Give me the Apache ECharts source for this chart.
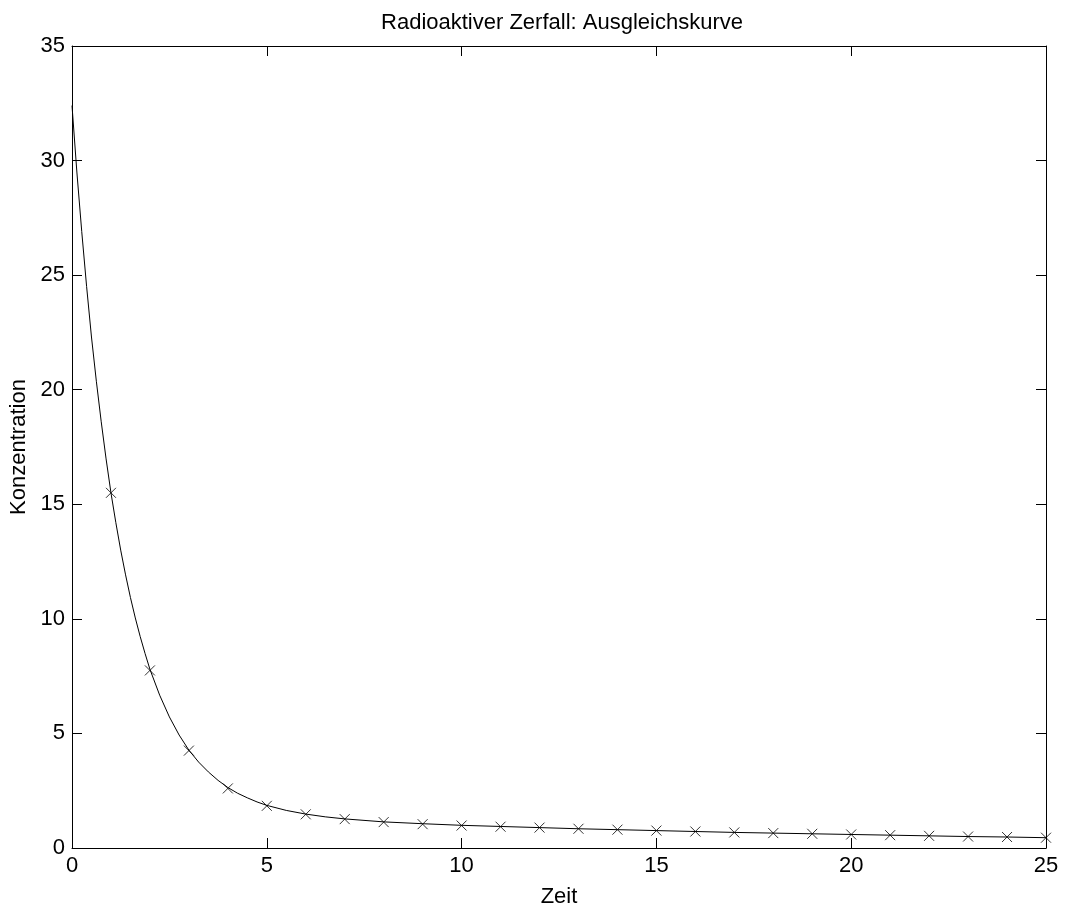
<!DOCTYPE html>
<html><head><meta charset="utf-8">
<script src="https://cdn.jsdelivr.net/npm/echarts@6/dist/echarts.min.js"></script>
<style>html,body{margin:0;padding:0;background:#fff}#c{width:1069px;height:906px}</style>
</head><body><div id="c"></div>
<script>
const titleText = 'Radioaktiver Zerfall: Ausgleichskurve';
const xName = 'Zeit';
const yName = 'Konzentration';
const measT = [1,2,3,4,5,6,7,8,9,10,11,12,13,14,15,16,17,18,19,20,21,22,23,24,25];
const measC = [15.5,7.75,4.25,2.6,1.84,1.47,1.26,1.13,1.04,0.98,0.93,0.89,0.84,0.8,0.76,0.72,0.68,0.65,0.62,0.59,0.56,0.53,0.5,0.48,0.45];
const fitT = [0,0.125,0.25,0.375,0.5,0.625,0.75,0.875,1,1.125,1.25,1.375,1.5,1.625,1.75,1.875,2,2.25,2.5,2.75,3,3.25,3.5,3.75,4,4.25,4.5,4.75,5,5.5,6,6.5,7,8,9,10,11,12,13,14,15,16,17,18,19,20,21,22,23,24,25];
const fitC = [32.4,29.5,26.9,24.5,22.3,20.37,18.6,16.98,15.5,14.2,13.0,11.92,10.93,10.04,9.23,8.49,7.8,6.67,5.72,4.93,4.27,3.75,3.32,2.95,2.64,2.39,2.19,2.01,1.86,1.64,1.48,1.36,1.27,1.14,1.06,0.99,0.94,0.89,0.84,0.8,0.76,0.72,0.68,0.65,0.62,0.59,0.56,0.53,0.5,0.48,0.45];

const FONT = 'Liberation Sans';
const FS = 22;
function common(){
  return {
    axisLine:{show:true,onZero:false,lineStyle:{color:'#000',width:1}},
    axisTick:{show:true,inside:true,length:10,lineStyle:{color:'#000'}},
    splitLine:{show:false}
  };
}
const chart = echarts.init(document.getElementById('c'), null, {renderer:'canvas'});
chart.setOption({
  animation:false,
  backgroundColor:'#fff',
  title:{text:titleText,left:557,textAlign:'center',top:7,padding:5,textStyle:{fontFamily:FONT,fontSize:FS,fontWeight:'normal',color:'#000'}},
  grid:{left:72,right:23,top:46,bottom:58,containLabel:false,outerBoundsMode:'none'},
  xAxis:[
    Object.assign({type:'value',min:0,max:25,interval:5,position:'bottom',name:xName,nameLocation:'middle',nameGap:38,
      nameTextStyle:{fontFamily:FONT,fontSize:FS,color:'#000'},
      axisLabel:{fontFamily:FONT,fontSize:FS,color:'#000',margin:7}},common()),
    Object.assign({type:'value',min:0,max:25,interval:5,position:'top',axisLabel:{show:false}},common())
  ],
  yAxis:[
    Object.assign({type:'value',min:0,max:35,interval:5,position:'left',name:yName,nameLocation:'middle',nameGap:37,
      nameTextStyle:{fontFamily:FONT,fontSize:FS,color:'#000'},
      axisLabel:{fontFamily:FONT,fontSize:FS,color:'#000',margin:7}},common()),
    Object.assign({type:'value',min:0,max:35,interval:5,position:'right',axisLabel:{show:false}},common())
  ],
  series:[
    {type:'line',data:fitT.map((t,i)=>[t,fitC[i]]),showSymbol:false,smooth:false,
     lineStyle:{color:'#000',width:1},xAxisIndex:0,yAxisIndex:0,z:2},
    {type:'scatter',data:measT.map((t,i)=>[t,measC[i]]),symbol:'path://M0,0L10,10M10,0L0,10',symbolSize:10,
     itemStyle:{color:'rgba(0,0,0,0)',borderColor:'#000',borderWidth:1},xAxisIndex:0,yAxisIndex:0,z:3}
  ]
});
</script></body></html>
